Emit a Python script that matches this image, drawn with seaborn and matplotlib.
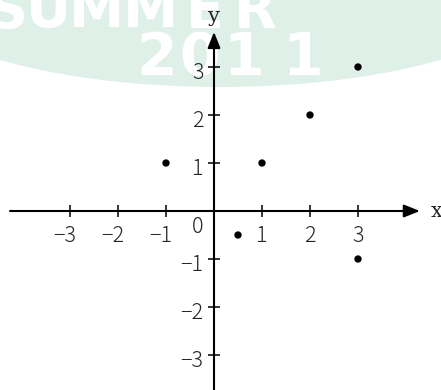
import matplotlib
matplotlib.use("Agg")
import matplotlib.pyplot as plt
import seaborn as sns
import pandas as pd
from matplotlib.patches import Ellipse

# Points plotted in the coordinate plane
px = [-1, 1, 2, 3, 0.5, 3]
py = [1, 1, 2, 3, -0.5, -1]

# Axis ticks and their labels
x_ticks = [-3, -2, -1, 1, 2, 3]
x_tick_labels = ["\u22123", "\u22122", "\u22121", "1", "2", "3"]
y_ticks = [-3, -2, -1, 1, 2, 3]
y_tick_labels = ["\u22123", "\u22122", "\u22121", "1", "2", "3"]

sns.set_theme(style="white")
plt.rcParams["font.family"] = ["Noto Sans CJK JP", "DejaVu Sans"]

W, H = 441, 390
fig = plt.figure(figsize=(W / 100, H / 100), dpi=100)
fig.patch.set_facecolor("white")

# faint background banner
band = Ellipse((220 / W, 1 + 19 / H), 2 * 330 / W, 2 * 106 / H,
               transform=fig.transFigure, facecolor="#dff0e8",
               edgecolor="none", zorder=-3)
fig.patches.append(band)
for ch, cx in zip("SUMMER", [8, 48, 97, 150, 205, 255]):
    fig.text(cx / W, 1 - 27 / H, ch, fontsize=40, fontweight="bold",
             color="white", family="DejaVu Sans", ha="center",
             va="baseline", zorder=-2)
for ch, cx in zip("2011", [157, 200, 244, 303]):
    fig.text(cx / W, 1 - 75 / H, ch, fontsize=42, fontweight="bold",
             color="white", family="DejaVu Sans", ha="center",
             va="baseline", zorder=-2)

ax = fig.add_axes([0, 0, 1, 1])
ax.set_facecolor("none")

ox, oy, unit = 214, 211, 48
ax.set_xlim(-ox / unit, (W - ox) / unit)
ax.set_ylim(-(H - oy) / unit, oy / unit)

df = pd.DataFrame({"x": px, "y": py})
sns.scatterplot(data=df, x="x", y="y", ax=ax, color="black", s=28,
                edgecolor="none", zorder=5)

# axes through the origin with arrow heads
arrow = dict(arrowstyle="-|>,head_length=0.8,head_width=0.32",
             color="black", lw=1.5, shrinkA=0, shrinkB=0,
             mutation_scale=12)
ax.annotate("", xy=(4.29, 0), xytext=(-4.25, 0), arrowprops=arrow)
ax.annotate("", xy=(0, 3.73), xytext=(0, -3.8), arrowprops=arrow)

for s in ax.spines.values():
    s.set_visible(False)
ax.spines["left"].set_position("zero")
ax.spines["bottom"].set_position("zero")
ax.set_xticks(x_ticks)
ax.set_yticks(y_ticks)
ax.set_xticklabels([])
ax.set_yticklabels([])
ax.tick_params(direction="inout", length=9, width=1.1, color="black",
               bottom=True, left=True)
ax.set_xlabel("")
ax.set_ylabel("")

fs = 15.5
lab_style = dict(textcoords="offset points", va="baseline", fontsize=fs,
                 fontweight="light")
for v, lab in zip(x_ticks, x_tick_labels):
    if lab.startswith("\u2212"):
        ax.annotate(lab, (v, 0), xytext=(4.2, -22.3), ha="right", **lab_style)
    else:
        ax.annotate(lab, (v, 0), xytext=(0, -22.3), ha="center", **lab_style)
for v, lab in zip(y_ticks, y_tick_labels):
    ax.annotate(lab, (0, v), xytext=(-7.5, -8.6), ha="right", **lab_style)
ax.annotate("0", (0, 0), xytext=(-12, -16), ha="center", **lab_style)

ax.annotate("x", (4.29, 0), xytext=(12, -4.5), textcoords="offset points",
            ha="center", va="baseline", fontsize=15, family="DejaVu Serif")
ax.annotate("y", (0, 3.73), xytext=(0, 7.5), textcoords="offset points",
            ha="center", va="baseline", fontsize=15, family="DejaVu Serif")

fig.savefig("out.png", dpi=100)
